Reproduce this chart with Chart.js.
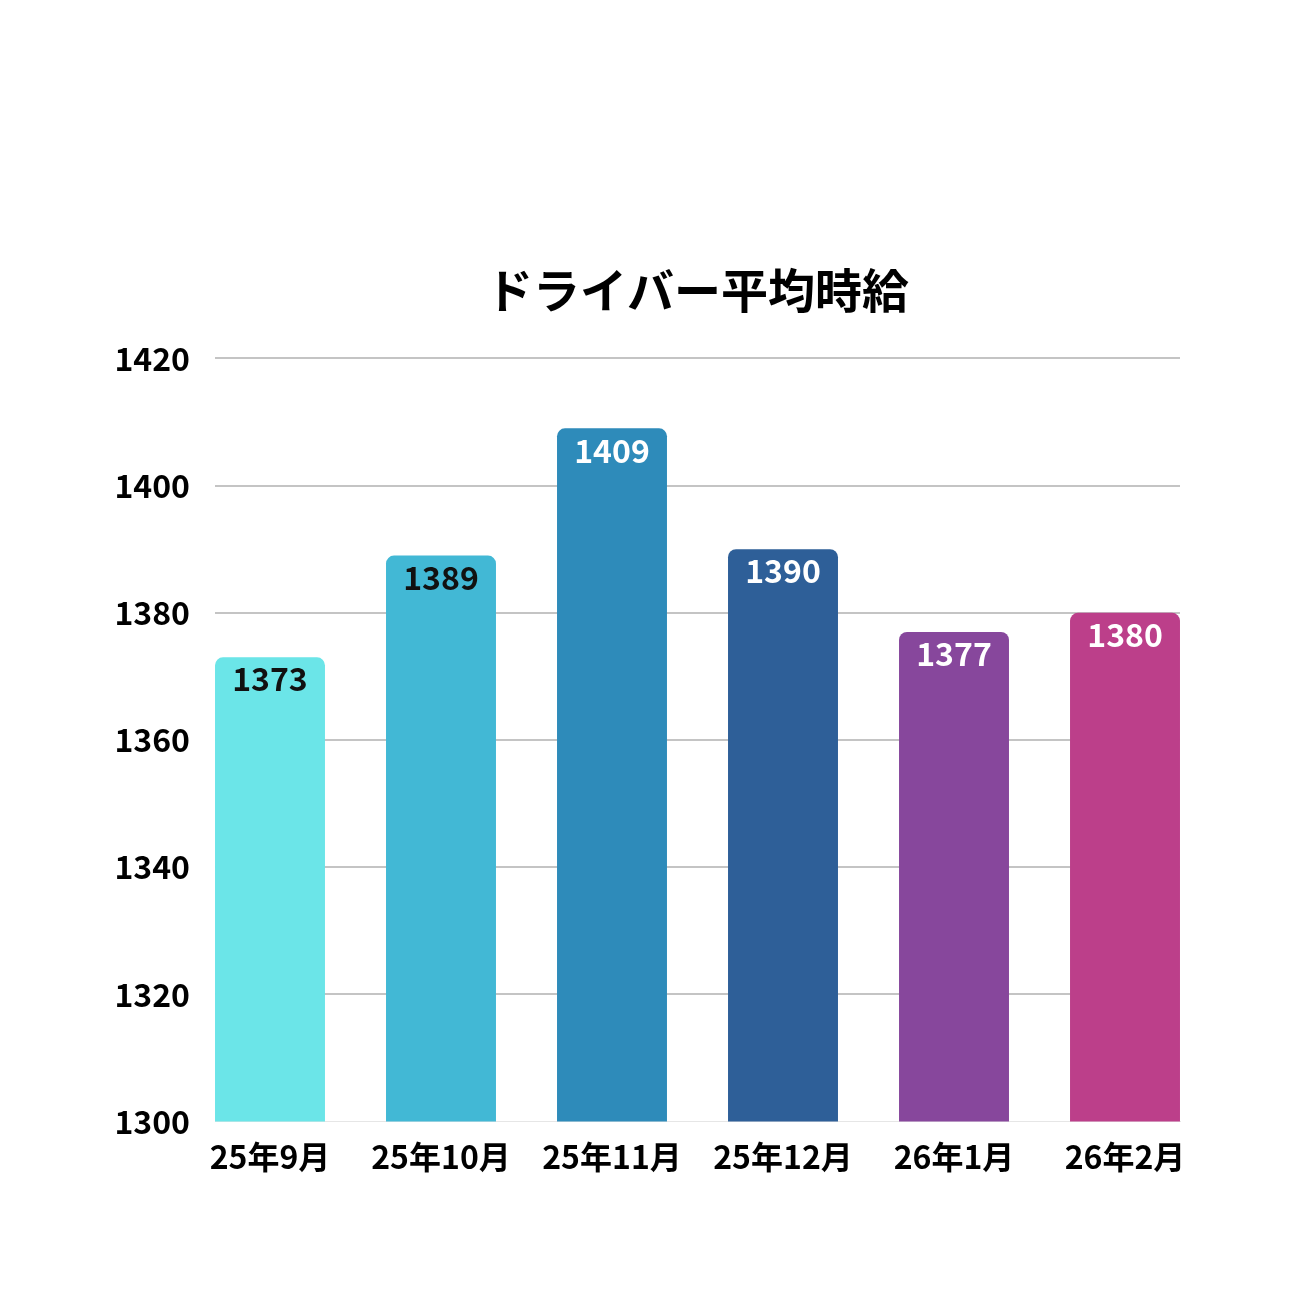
<!DOCTYPE html>
<html>
<head>
<meta charset="utf-8">
<script src="https://cdn.jsdelivr.net/npm/chart.js@4"></script>
<style>
  body { margin: 0; background: #fff; }
  #wrap { width: 1300px; height: 1300px; }
</style>
</head>
<body>
<div id="wrap"><canvas id="wage-chart"></canvas></div>
<script>
// data
const months = ["25年9月", "25年10月", "25年11月", "25年12月", "26年1月", "26年2月"];
const wages = [1373, 1389, 1409, 1390, 1377, 1380];
const yTicks = [1300, 1320, 1340, 1360, 1380, 1400, 1420];

const barColors = ['#6BE5E8', '#42B8D5', '#2E8BBA', '#2E5F98', '#87479C', '#BC3F8A'];
const labelColors = ['#111', '#111', '#fff', '#fff', '#fff', '#fff'];

const FONT = '"Noto Sans CJK JP", "Noto Sans", sans-serif';

// value labels inside the bar tops
const valueLabels = {
  id: 'valueLabels',
  afterDatasetsDraw(chart) {
    const ctx = chart.ctx;
    const meta = chart.getDatasetMeta(0);
    ctx.save();
    ctx.font = 'bold 32px ' + FONT;
    ctx.textAlign = 'center';
    ctx.textBaseline = 'middle';
    meta.data.forEach((bar, i) => {
      ctx.fillStyle = labelColors[i];
      ctx.fillText(String(wages[i]), bar.x, bar.y + 22);
    });
    ctx.restore();
  }
};

const canvas = document.getElementById('wage-chart');

new Chart(canvas, {
  type: 'bar',
  data: {
    datasets: [{
      data: wages.map((v, i) => ({ x: i, y: v })),
      backgroundColor: barColors,
      borderRadius: { topLeft: 8, topRight: 8 },
      borderSkipped: 'bottom',
      barPercentage: 0.643,
      categoryPercentage: 1
    }]
  },
  options: {
    responsive: true,
    maintainAspectRatio: false,
    animation: false,
    layout: {
      padding: { left: 0, right: 120, top: 0, bottom: 116 }
    },
    scales: {
      x: {
        type: 'linear',
        offset: false,
        min: -0.3216,
        max: 5.3216,
        grid: { display: false },
        border: { display: true, color: '#e6e6e6', width: 1 },
        ticks: {
          stepSize: 1,
          includeBounds: false,
          autoSkip: false,
          maxRotation: 0,
          padding: 8,
          color: '#000',
          font: { family: FONT, size: 32, weight: 'bold' },
          callback: (v) => Number.isInteger(v) ? months[v] : ''
        }
      },
      y: {
        min: 1300,
        max: 1420,
        afterFit(scale) { scale.width = 215; },
        afterBuildTicks(scale) { scale.ticks = yTicks.map(v => ({ value: v })); },
        grid: {
          drawTicks: false,
          lineWidth: 2,
          color: (c) => c.tick && c.tick.value === 1300 ? 'rgba(0,0,0,0)' : '#c4c4c4'
        },
        border: { display: false },
        ticks: {
          padding: 25,
          color: '#000',
          font: { family: FONT, size: 32, weight: 'bold' },
          callback: (v) => String(v)
        }
      }
    },
    plugins: {
      legend: { display: false },
      tooltip: { enabled: false },
      title: {
        display: true,
        text: 'ドライバー平均時給',
        fullSize: false,
        color: '#000',
        font: { family: FONT, size: 47, weight: 'bold', lineHeight: 1.2 },
        padding: { top: 262, bottom: 40 }
      }
    }
  },
  plugins: [valueLabels]
});
</script>
</body>
</html>
